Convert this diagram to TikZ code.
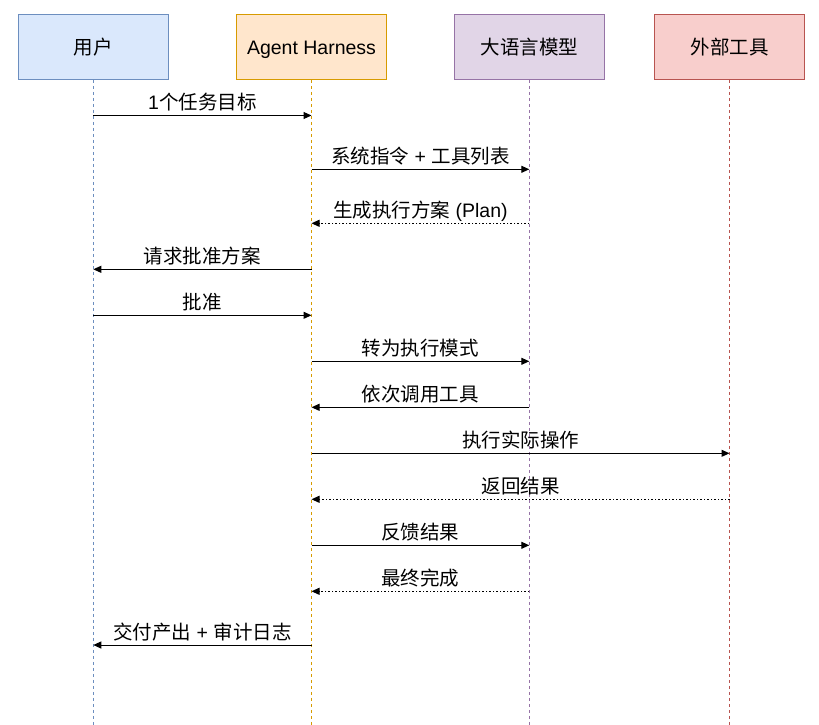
\documentclass[tikz,border=0pt]{standalone}
\usepackage{fontspec}
\setmainfont{Liberation Sans}
\newfontfamily\cjk{Noto Sans CJK SC}
\usetikzlibrary{arrows.meta}
\definecolor{bluef}{HTML}{DAE8FC}\definecolor{blues}{HTML}{6C8EBF}
\definecolor{orangef}{HTML}{FFE6CC}\definecolor{oranges}{HTML}{D79B00}
\definecolor{purplef}{HTML}{E1D5E7}\definecolor{purples}{HTML}{9673A6}
\definecolor{redf}{HTML}{F8CECC}\definecolor{reds}{HTML}{B85450}
\tikzset{
  actor/.style={draw=#1s, fill=#1f, line width=1pt, minimum width=150pt, minimum height=65pt, inner sep=0pt, text height=14.5pt, text depth=0pt, font=\fontsize{19.5}{23}\selectfont},
  lifeline/.style={draw=#1, line width=0.8pt, dash pattern=on 3pt off 3pt},
  msg/.style={line width=1pt, -{Triangle[length=8pt,width=7pt]}},
  ret/.style={msg, dash pattern=on 1.5pt off 2pt},
  lbl/.style={midway, anchor=base, yshift=5.5pt, inner sep=0pt, font=\fontsize{19.5}{23}\selectfont}
}
\begin{document}
\begin{tikzpicture}[x=1pt, y=-1pt]
\useasboundingbox (0,0) rectangle (819,725);
\node[actor=blue]   (user)  at (93.3,46.8)  {\cjk 用户};
\node[actor=orange] (agent) at (311.5,46.8) {Agent Harness};
\node[actor=purple] (llm)   at (529.3,46.8) {\cjk 大语言模型};
\node[actor=red]    (tool)  at (729.5,46.8) {\cjk 外部工具};
\coordinate (bot) at (0,725);
\draw[lifeline=blues]   (user.south)  -- (user |- bot);
\draw[lifeline=oranges] (agent.south) -- (agent |- bot);
\draw[lifeline=purples] (llm.south)   -- (llm |- bot);
\draw[lifeline=reds]    (tool.south)  -- (tool |- bot);
\coordinate (r1) at (0,115.5);
\coordinate (r2) at (0,169.3);
\coordinate (r3) at (0,223.3);
\coordinate (r4) at (0,269.3);
\coordinate (r5) at (0,315.3);
\coordinate (r6) at (0,361.3);
\coordinate (r7) at (0,407.3);
\coordinate (r8) at (0,453.3);
\coordinate (r9) at (0,499.3);
\coordinate (r10) at (0,545.3);
\coordinate (r11) at (0,591.3);
\coordinate (r12) at (0,645);
\draw[msg] (user |- r1) -- (agent |- r1) node[lbl] {1{\cjk 个任务目标}};
\draw[msg] (agent |- r2) -- (llm |- r2) node[lbl] {{\cjk 系统指令} + {\cjk 工具列表}};
\draw[ret] (llm |- r3) -- (agent |- r3) node[lbl] {{\cjk 生成执行方案} (Plan)};
\draw[msg] (agent |- r4) -- (user |- r4) node[lbl] {\cjk 请求批准方案};
\draw[msg] (user |- r5) -- (agent |- r5) node[lbl] {\cjk 批准};
\draw[msg] (agent |- r6) -- (llm |- r6) node[lbl] {\cjk 转为执行模式};
\draw[msg] (llm |- r7) -- (agent |- r7) node[lbl] {\cjk 依次调用工具};
\draw[msg] (agent |- r8) -- (tool |- r8) node[lbl] {\cjk 执行实际操作};
\draw[ret] (tool |- r9) -- (agent |- r9) node[lbl] {\cjk 返回结果};
\draw[msg] (agent |- r10) -- (llm |- r10) node[lbl] {\cjk 反馈结果};
\draw[ret] (llm |- r11) -- (agent |- r11) node[lbl] {\cjk 最终完成};
\draw[msg] (agent |- r12) -- (user |- r12) node[lbl] {{\cjk 交付产出} + {\cjk 审计日志}};
\end{tikzpicture}
\end{document}
